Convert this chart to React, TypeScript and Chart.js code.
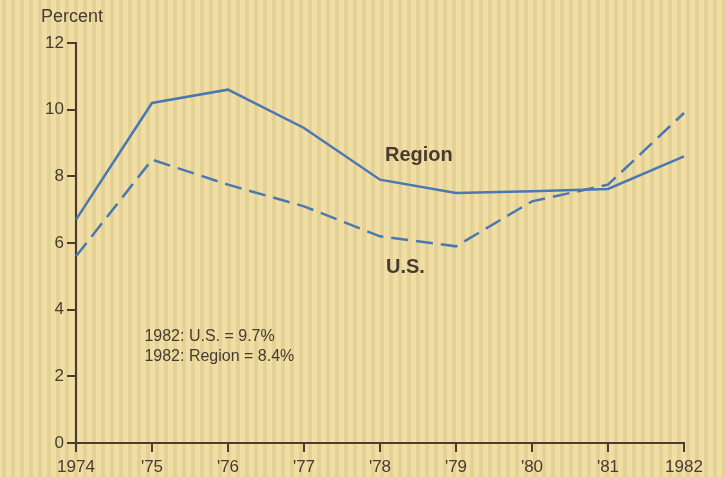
import React, { useEffect, useRef } from "react";
import { Chart, registerables } from "chart.js";

Chart.register(...registerables);

const years = ["1974", "'75", "'76", "'77", "'78", "'79", "'80", "'81", "1982"];
const regionValues = [6.7, 10.2, 10.6, 9.45, 7.9, 7.5, 7.55, 7.62, 8.6];
const usValues = [5.6, 8.5, 7.75, 7.1, 6.2, 5.9, 7.25, 7.75, 9.9];
const yTicks = [0, 2, 4, 6, 8, 10, 12];
const notes = ["1982: U.S. = 9.7%", "1982: Region = 8.4%"];

const FONT = "'Liberation Sans', Arial, Helvetica, sans-serif";
const TEXT = "#463b31";
const AXIS = "#4a3c2f";
const BLUE = "#4a78b2";

const bgPlugin = {
  id: "stripes",
  beforeDraw(chart: any) {
    const { ctx, width, height } = chart;
    ctx.save();
    ctx.fillStyle = "#f1dea4";
    ctx.fillRect(0, 0, width, height);
    ctx.fillStyle = "rgba(195,175,115,0.28)";
    for (let x = 2; x < width; x += 9) {
      ctx.fillRect(x, 0, 4, height);
    }
    ctx.restore();
  },
};

const textPlugin = {
  id: "texts",
  afterDraw(chart: any) {
    const { ctx, chartArea } = chart;
    const xs = chart.scales.x;
    const ys = chart.scales.y;
    ctx.save();
    ctx.fillStyle = TEXT;
    ctx.textBaseline = "middle";
    ctx.textAlign = "left";
    ctx.font = `18px ${FONT}`;
    ctx.fillText("Percent", chartArea.left - 35, chartArea.top - 26);

    ctx.font = `bold 20px ${FONT}`;
    ctx.fillText("Region", xs.getPixelForValue(4) + 5, ys.getPixelForValue(8.64));
    ctx.fillText("U.S.", xs.getPixelForValue(4) + 6, ys.getPixelForValue(5.28));

    ctx.font = `16px ${FONT}`;
    const nx = xs.getPixelForValue(0) + 0.9 * (xs.getPixelForValue(1) - xs.getPixelForValue(0));
    ctx.fillText(notes[0], nx, ys.getPixelForValue(3.18));
    ctx.fillText(notes[1], nx, ys.getPixelForValue(2.58));
    ctx.restore();
  },
};

export default function App() {
  const ref = useRef<HTMLCanvasElement>(null);
  useEffect(() => {
    if (!ref.current) return;
    const chart = new Chart(ref.current, {
      type: "line",
      data: {
        labels: years,
        datasets: [
          {
            label: "Region",
            data: regionValues,
            borderColor: BLUE,
            borderWidth: 2.5,
            pointRadius: 0,
            tension: 0,
            fill: false,
          },
          {
            label: "U.S.",
            data: usValues,
            borderColor: BLUE,
            borderWidth: 2.5,
            borderDash: [17, 8],
            pointRadius: 0,
            tension: 0,
            fill: false,
          },
        ],
      },
      options: {
        animation: false,
        responsive: false,
        layout: { padding: { top: 43, right: 41, left: 0, bottom: 0 } },
        plugins: { legend: { display: false }, tooltip: { enabled: false } },
        scales: {
          x: {
            type: "category",
            offset: false,
            afterFit(scale: any) {
              scale.height = 34;
            },
            grid: {
              display: true,
              drawOnChartArea: false,
              drawTicks: true,
              tickLength: 9,
              color: AXIS,
              lineWidth: 2,
            },
            border: { display: true, color: AXIS, width: 2 },
            ticks: {
              color: TEXT,
              font: { family: FONT, size: 17 },
              padding: 5,
              maxRotation: 0,
              autoSkip: false,
            },
          },
          y: {
            min: 0,
            max: 12,
            afterFit(scale: any) {
              scale.width = 76;
            },
            afterBuildTicks(scale: any) {
              scale.ticks = yTicks.map((v) => ({ value: v }));
            },
            grid: {
              display: true,
              drawOnChartArea: false,
              drawTicks: true,
              tickLength: 9,
              color: AXIS,
              lineWidth: 2,
            },
            border: { display: true, color: AXIS, width: 2 },
            ticks: {
              color: TEXT,
              font: { family: FONT, size: 17 },
              padding: 3,
            },
          },
        },
      },
      plugins: [bgPlugin, textPlugin],
    } as any);
    return () => chart.destroy();
  }, []);
  return (
    <div style={{ position: "fixed", left: 0, top: 0, width: 725, height: 477 }}>
      <canvas ref={ref} width={725} height={477} style={{ display: "block" }} />
    </div>
  );
}
